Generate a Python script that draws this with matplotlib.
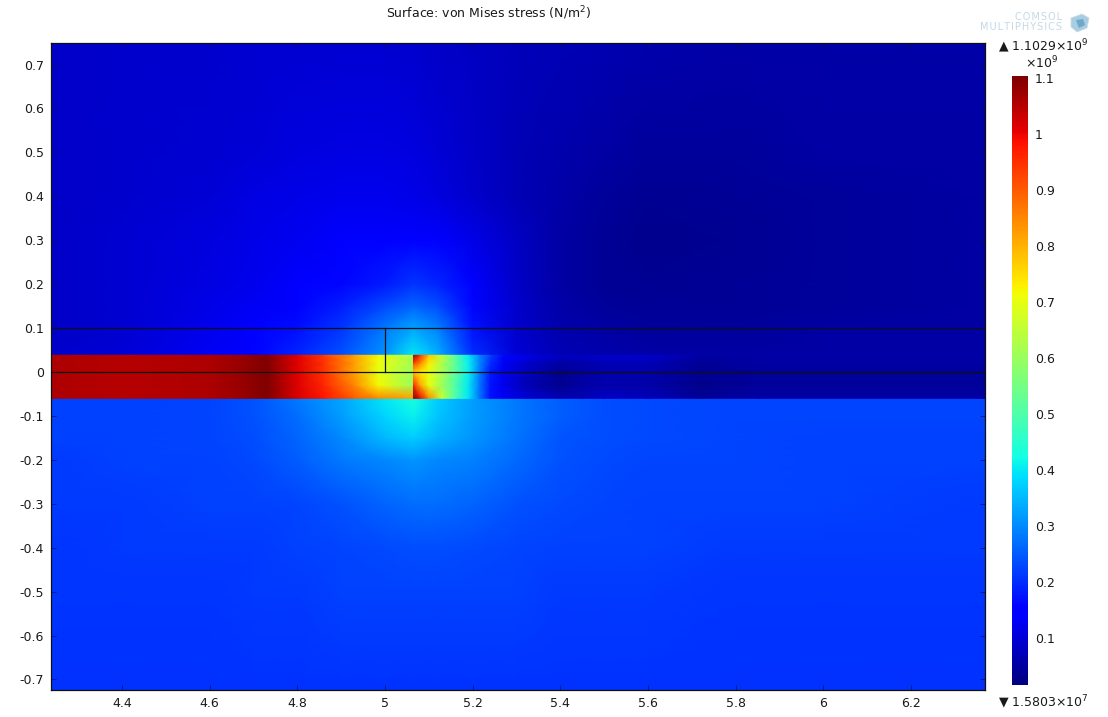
import numpy as np
import matplotlib
matplotlib.use("Agg")
import matplotlib.pyplot as plt
from matplotlib.colors import Normalize
from matplotlib.patches import Polygon

# von Mises stress, in units of 1e9 N/m^2
VMIN = 0.015803
VMAX = 1.1029
x_outer = [4.238, 4.4, 4.6, 4.7, 4.8, 4.9, 5.0, 5.065, 5.12, 5.2, 5.3, 5.4, 5.5, 5.6, 5.8, 6.0, 6.369]

# Upper layer
y_top = [0.038, 0.1, 0.15, 0.2, 0.3, 0.4, 0.5, 0.749]
top_004 = [.09, .10, .13, .155, .19, .24, .31, .40, .34, .20, .10, .07, .06, .055, .05, .05, .05]
top_010 = [.085, .095, .12, .14, .165, .21, .28, .33, .29, .17, .09, .06, .05, .045, .045, .05, .05]
top_015 = [.085, .095, .115, .13, .15, .185, .23, .26, .235, .16, .09, .055, .045, .04, .04, .045, .05]
top_020 = [.085, .095, .11, .12, .135, .16, .18, .21, .19, .14, .085, .05, .04, .035, .04, .045, .05]
top_030 = [.085, .095, .105, .115, .125, .14, .15, .155, .145, .115, .08, .05, .04, .03, .035, .045, .05]
top_040 = [.085, .09, .10, .11, .115, .12, .12, .115, .105, .09, .07, .055, .045, .035, .04, .045, .05]
top_050 = [.085, .09, .095, .10, .105, .11, .11, .105, .10, .085, .07, .06, .05, .045, .045, .05, .05]
top_075 = [.085, .09, .09, .095, .095, .095, .095, .09, .085, .08, .075, .07, .065, .06, .055, .055, .055]

# Lower layer
y_low = [-0.724, -0.5, -0.4, -0.3, -0.2, -0.15, -0.1, -0.06]
low_073 = [.205, .205, .205, .205, .205, .205, .205, .205, .205, .205, .205, .205, .205, .205, .205, .205, .205]
low_050 = [.21, .21, .21, .215, .215, .22, .22, .22, .22, .22, .22, .215, .215, .215, .21, .21, .21]
low_040 = [.21, .215, .215, .215, .22, .225, .23, .235, .235, .23, .225, .22, .22, .22, .215, .215, .215]
low_030 = [.215, .215, .22, .22, .225, .24, .26, .27, .27, .26, .24, .23, .225, .22, .22, .22, .215]
low_020 = [.215, .22, .22, .23, .25, .28, .30, .31, .30, .29, .265, .24, .23, .225, .225, .22, .22]
low_015 = [.22, .22, .225, .235, .26, .30, .35, .37, .34, .31, .275, .245, .235, .23, .225, .22, .22]
low_010 = [.22, .22, .225, .24, .27, .32, .38, .41, .36, .32, .28, .25, .235, .23, .225, .225, .225]
low_006 = [.22, .22, .225, .24, .28, .33, .40, .43, .37, .32, .28, .25, .235, .23, .225, .225, .225]

# Strip, left of the crack tip
y_strip = [-0.06, -0.03, 0.0, 0.02, 0.038]
x_left = [4.238, 4.4, 4.6, 4.68, 4.73, 4.80, 4.86, 4.93, 4.985, 5.065]
left_m006 = [1.06, 1.05, 1.06, 1.08, 1.10, 1.02, .98, .90, .85, .82]
left_m003 = [1.06, 1.05, 1.06, 1.08, 1.10, 1.01, .96, .85, .72, .60]
left_000 = [1.06, 1.05, 1.06, 1.08, 1.10, 1.01, .95, .82, .70, .60]
left_002 = [1.06, 1.05, 1.06, 1.08, 1.10, 1.01, .95, .82, .71, .61]
left_004 = [1.06, 1.05, 1.06, 1.08, 1.10, 1.01, .94, .82, .72, .62]

# Strip, right of the crack tip
x_right = [5.065, 5.08, 5.10, 5.13, 5.16, 5.19, 5.215, 5.24, 5.27, 5.32, 5.4, 5.45, 5.5, 5.6, 5.72, 5.85, 6.369]
right_m006 = [1.10, 1.0, .85, .66, .50, .40, .28, .17, .13, .10, .07, .07, .08, .075, .04, .05, .05]
right_m003 = [.96, .82, .70, .60, .50, .40, .28, .17, .12, .07, .03, .05, .06, .055, .03, .045, .045]
right_000 = [.78, .74, .70, .62, .52, .41, .29, .18, .12, .08, .035, .05, .06, .06, .035, .045, .045]
right_002 = [.93, .85, .73, .62, .52, .41, .30, .20, .13, .09, .05, .06, .07, .07, .04, .05, .05]
right_004 = [1.08, .95, .78, .66, .52, .40, .30, .22, .16, .12, .08, .08, .09, .09, .05, .05, .05]

x_ticks = [4.4, 4.6, 4.8, 5.0, 5.2, 5.4, 5.6, 5.8, 6.0, 6.2]
x_ticklabels = ["4.4", "4.6", "4.8", "5", "5.2", "5.4", "5.6", "5.8", "6", "6.2"]
y_ticks = [0.7, 0.6, 0.5, 0.4, 0.3, 0.2, 0.1, 0.0, -0.1, -0.2, -0.3, -0.4, -0.5, -0.6, -0.7]
y_ticklabels = ["0.7", "0.6", "0.5", "0.4", "0.3", "0.2", "0.1", "0", "-0.1", "-0.2", "-0.3", "-0.4", "-0.5", "-0.6", "-0.7"]
cb_ticks = [0.1, 0.2, 0.3, 0.4, 0.5, 0.6, 0.7, 0.8, 0.9, 1.0, 1.1]
cb_ticklabels = ["0.1", "0.2", "0.3", "0.4", "0.5", "0.6", "0.7", "0.8", "0.9", "1", "1.1"]

W, H = 1108, 717
plt.rcParams["font.family"] = "DejaVu Sans"
plt.rcParams["mathtext.default"] = "regular"
TXT = "#1a1a1a"
FS = 9

fig = plt.figure(figsize=(W / 100, H / 100), dpi=100, facecolor="white")


def px_axes(l, t, r, b):
    return fig.add_axes([l / W, 1 - b / H, (r - l) / W, (b - t) / H])


ax = px_axes(51, 43, 985, 690)
norm = Normalize(VMIN, VMAX)
layers = [
    (x_outer, y_top, [top_004, top_010, top_015, top_020, top_030, top_040, top_050, top_075]),
    (x_outer, y_low, [low_073, low_050, low_040, low_030, low_020, low_015, low_010, low_006]),
    (x_left, y_strip, [left_m006, left_m003, left_000, left_002, left_004]),
    (x_right, y_strip, [right_m006, right_m003, right_000, right_002, right_004]),
]
for xs, ys, rows in layers:
    ax.pcolormesh(xs, ys, np.array(rows), cmap="jet", norm=norm, shading="gouraud", rasterized=True)

ax.set_xlim(4.238, 6.369)
ax.set_ylim(-0.724, 0.749)
ax.plot([4.238, 6.369], [0.1, 0.1], color="#101010", lw=0.9)
ax.plot([4.238, 6.369], [0, 0], color="#101010", lw=0.9)
ax.plot([5.0, 5.0], [0, 0.1], color="#101010", lw=0.9)
ax.set_xticks(x_ticks, x_ticklabels)
ax.set_yticks(y_ticks, y_ticklabels)
ax.tick_params(axis="both", direction="in", length=3.5, width=0.5, color="#101050",
               labelsize=FS, labelcolor=TXT, top=True, right=True, pad=5)
for s in ax.spines.values():
    s.set_linewidth(0.9)
    s.set_color("#101010")

cax = px_axes(1012, 76, 1028, 685)
sm = plt.cm.ScalarMappable(norm=norm, cmap="jet")
cb = fig.colorbar(sm, cax=cax)
cb.set_ticks(cb_ticks, labels=cb_ticklabels)
cb.ax.tick_params(length=0, labelsize=FS, labelcolor=TXT, pad=5)
cb.outline.set_visible(False)


def ftext(x, y, s, **kw):
    kw.setdefault("color", TXT)
    kw.setdefault("fontsize", FS)
    kw.setdefault("va", "center")
    return fig.text(x / W, 1 - y / H, s, **kw)


ftext(489, 13, "Surface: von Mises stress (N/m$^2$)", ha="center")
ftext(998, 46, "▲ 1.1029×10$^9$", ha="left")
ftext(1042, 63, "×10$^9$", ha="center")
ftext(998, 702, "▼ 1.5803×10$^7$", ha="left")

# Logo
ftext(1062, 17, "\u200a".join("COMSOL"), ha="right", color="#c4d9e6", fontsize=7)
ftext(1062, 27.5, "\u200a".join("MULTIPHYSICS"), ha="right", color="#c4d9e6", fontsize=7)
cube = [(1071, 18), (1082, 14), (1089, 18), (1087, 28), (1077, 32), (1071, 27)]
fig.add_artist(Polygon([(a / W, 1 - b / H) for a, b in cube], closed=True,
                       transform=fig.transFigure, facecolor="#a9cde0", edgecolor="#c9deea", lw=0.6))
core = [(1076, 20), (1083, 19), (1085, 25), (1079, 28)]
fig.add_artist(Polygon([(a / W, 1 - b / H) for a, b in core], closed=True,
                       transform=fig.transFigure, facecolor="#6fa8c8", edgecolor="none"))

fig.savefig("out.png", dpi=100)
